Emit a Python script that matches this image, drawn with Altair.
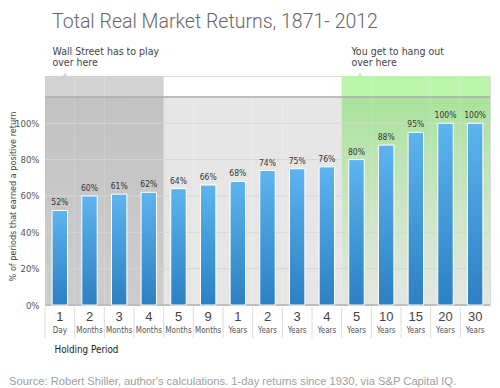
import altair as alt
import pandas as pd

# ---- data ----
cats = ["1 Day", "2 Months", "3 Months", "4 Months", "5 Months", "9 Months",
        "1 Years", "2 Years", "3 Years", "4 Years", "5 Years", "10 Years",
        "15 Years", "20 Years", "30 Years"]
nums = ["1", "2", "3", "4", "5", "9", "1", "2", "3", "4", "5", "10", "15", "20", "30"]
units = ["Day", "Months", "Months", "Months", "Months", "Months", "Years", "Years",
         "Years", "Years", "Years", "Years", "Years", "Years", "Years"]
values = [52, 60, 61, 62, 64, 66, 68, 74, 75, 76, 80, 88, 95, 100, 100]
zones = ["wall"] * 4 + ["mid"] * 6 + ["you"] * 5
grid_values = [0, 20, 40, 60, 80, 100]

title_text = "Total Real Market Returns, 1871- 2012"
wall_note = ["Wall Street has to play", "over here"]
you_note = ["You get to hang out", "over here"]
source_text = "Source: Robert Shiller, author's calculations. 1-day returns since 1930, via S&P Capital IQ."

df = pd.DataFrame({"cat": cats, "num": nums, "unit": units, "val": values, "zone": zones,
                   "lbl": [f"{v}%" for v in values]})
grid_df = pd.DataFrame({"g": grid_values})

NARROW = "DejaVu Sans Condensed, sans-serif"
REG = "Liberation Sans, Arial, sans-serif"

W, H = 445, 229
TOP = 114.5
YMAX = 126

xscale = alt.Scale(domain=cats, paddingInner=0, paddingOuter=0)
xaxis = alt.Axis(title="Holding Period", labelExpr="split(datum.label, ' ')[0]",
                 labelFont=REG, labelFontSize=13, labelColor="#444",
                 labelAngle=0, labelPadding=5, ticks=False, domain=False,
                 titleFont=NARROW, titleFontSize=9.8, titleColor="#222",
                 titleFontWeight="normal", titleX=9, titleY=47,
                 titleAlign="left", titleBaseline="alphabetic", titleAnchor="start")


def X(**kw):
    return alt.X("cat:N", sort=cats, scale=xscale, **kw)


yscale = alt.Scale(domain=[0, YMAX], nice=False, zero=True)
yaxis = alt.Axis(title="% of periods that earned a positive return",
                 values=grid_values, labelExpr="datum.value + '%'",
                 labelFont=NARROW, labelFontSize=9.5, labelColor="#555",
                 ticks=False, domain=False, grid=False, labelPadding=6,
                 titleFont=NARROW, titleFontSize=9, titleColor="#444",
                 titleFontWeight="normal", titleX=-33, titleY=120,
                 titleAngle=270, titleAlign="center", titleBaseline="middle")

base = alt.Chart(df)

# light plot background
bg = base.mark_rect(color="#e6e6e6").encode(
    x=X(axis=xaxis),
    y=alt.Y("val:Q", scale=yscale, axis=yaxis),
    y2=alt.datum(TOP),
).transform_calculate(val="0")

# dark "Wall Street" zone
wall_plot = base.transform_filter("datum.zone == 'wall'").mark_rect(
    color=alt.Gradient(gradient="linear", x1=0, x2=0, y1=0, y2=1,
                       stops=[alt.GradientStop(color="#c2c2c2", offset=0),
                              alt.GradientStop(color="#cdcdcd", offset=1)])
).encode(x=X(), y=alt.datum(0), y2=alt.datum(TOP))
wall_tab = base.transform_filter("datum.zone == 'wall'").mark_rect(color="#d2d2d2").encode(
    x=X(), y=alt.datum(TOP), y2=alt.datum(YMAX))

# green "You" zone
you_plot = base.transform_filter("datum.zone == 'you'").mark_rect(
    color=alt.Gradient(gradient="linear", x1=0, x2=0, y1=0, y2=1,
                       stops=[alt.GradientStop(color="#a9e39b", offset=0),
                              alt.GradientStop(color="#cfe6c9", offset=0.6),
                              alt.GradientStop(color="#e4e6e3", offset=1)])
).encode(x=X(), y=alt.datum(0), y2=alt.datum(TOP))
you_tab = base.transform_filter("datum.zone == 'you'").mark_rect(color="#b9f6aa").encode(
    x=X(), y=alt.datum(TOP), y2=alt.datum(YMAX))

one = alt.Chart(grid_df).transform_filter("datum.g == 0")

# speech-bubble pointers on the tabs
wall_ptr = one.mark_point(shape="triangle-up", size=22, filled=True, opacity=1,
                          color="#d2d2d2").encode(x=alt.value(20), y=alt.value(-1.5))
you_ptr = one.mark_point(shape="triangle-up", size=22, filled=True, opacity=1,
                         color="#b9f6aa").encode(x=alt.value(315), y=alt.value(-1.5))

# gridlines
grid = alt.Chart(grid_df).mark_rule(color="#d6d6d6", strokeWidth=1).encode(
    y=alt.Y("g:Q", scale=yscale))

# frame lines
top_line = one.mark_rule(color="#ababab", strokeWidth=1.5).encode(y=alt.datum(TOP))
bottom_line = one.mark_rule(color="#b5b5b5", strokeWidth=1.5).encode(y=alt.datum(0))

# bars
bars = base.mark_bar(
    width=alt.RelativeBandSize(0.52),
    stroke="white", strokeWidth=1,
    color=alt.Gradient(gradient="linear", x1=0, x2=0, y1=0, y2=1,
                       stops=[alt.GradientStop(color="#5db4ee", offset=0),
                              alt.GradientStop(color="#2c80c3", offset=1)])
).encode(x=X(), y="val:Q")

bar_labels = base.mark_text(font=NARROW, fontSize=8.5, color="#333", baseline="bottom",
                            dy=-3).encode(x=X(), y="val:Q", text="lbl:N")

# unit labels under the numbers
unit_labels = base.mark_text(font=NARROW, fontSize=8, color="#555", baseline="middle").encode(
    x=X(), y=alt.value(H + 26), text="unit:N")

# separators between categories
seps = base.mark_rule(color="#dcdcdc", strokeWidth=1).encode(
    x=alt.X("cat:N", sort=cats, scale=xscale, bandPosition=0),
    y=alt.value(H + 2), y2=alt.value(H + 33))

# annotations and texts
title = one.mark_text(
    text=title_text, font="Roboto", fontWeight=300, fontSize=19.5, color="#666",
    align="left", baseline="alphabetic").encode(x=alt.value(7), y=alt.value(-48))
wall_txt = one.mark_text(
    text=wall_note, font=NARROW, fontSize=10.5, color="#444", align="left",
    baseline="alphabetic", lineHeight=11).encode(x=alt.value(7.5), y=alt.value(-21))
you_txt = one.mark_text(
    text=you_note, font=NARROW, fontSize=10.5, color="#444", align="left",
    baseline="alphabetic", lineHeight=11).encode(x=alt.value(306.5), y=alt.value(-21))
source = one.mark_text(
    text=source_text, font=REG, fontSize=11.2, color="#a0a0a0", align="left",
    baseline="alphabetic").encode(x=alt.value(-36), y=alt.value(H + 80))

chart = alt.layer(
    bg, wall_plot, wall_tab, you_plot, you_tab, wall_ptr, you_ptr, grid, top_line,
    bottom_line, bars, bar_labels, unit_labels, seps, title, wall_txt, you_txt, source
).properties(
    width=W, height=H,
    autosize=alt.AutoSizeParams(type="none"),
    padding={"left": 37, "top": 68, "right": 2, "bottom": 82},
).configure_view(stroke=None).configure(background="white")

chart.save("out.html", embed_options={"renderer": "svg", "actions": False})
